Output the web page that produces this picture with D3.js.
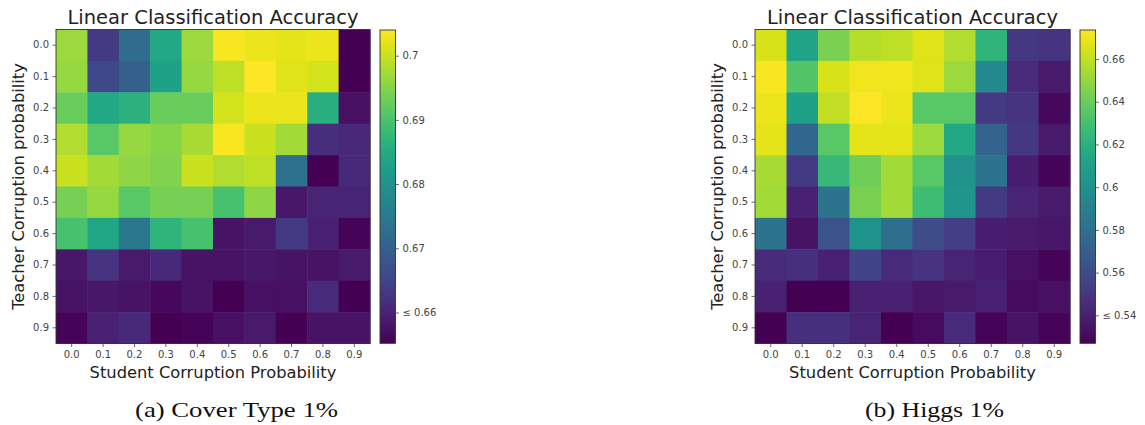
<!DOCTYPE html>
<html><head><meta charset="utf-8">
<script src="https://cdn.jsdelivr.net/npm/d3@7"></script>
<style>
html,body{margin:0;padding:0;background:#fff;}
svg{display:block;}
</style></head>
<body>
<svg id="chart" width="1145" height="425"></svg>
<script>
const probs = ["0.0","0.1","0.2","0.3","0.4","0.5","0.6","0.7","0.8","0.9"];

// Cover Type 1% : rows = teacher corruption, cols = student corruption
const coverType = [
  [0.6967,0.6635,0.6723,0.6845,0.6967,0.7035,0.7025,0.7020,0.7025,0.6500],
  [0.6962,0.6659,0.6698,0.6830,0.6962,0.6991,0.7040,0.7016,0.7006,0.6500],
  [0.6928,0.6845,0.6864,0.6928,0.6928,0.7006,0.7025,0.7025,0.6859,0.6572],
  [0.6981,0.6913,0.6962,0.6952,0.6977,0.7035,0.7001,0.6972,0.6615,0.6606],
  [0.7001,0.6972,0.6957,0.6947,0.7001,0.6981,0.6991,0.6733,0.6520,0.6606],
  [0.6938,0.6962,0.6913,0.6938,0.6938,0.6898,0.6957,0.6581,0.6601,0.6601],
  [0.6898,0.6840,0.6747,0.6869,0.6898,0.6576,0.6586,0.6635,0.6596,0.6557],
  [0.6581,0.6625,0.6586,0.6606,0.6576,0.6576,0.6581,0.6576,0.6576,0.6586],
  [0.6576,0.6581,0.6576,0.6562,0.6576,0.6540,0.6572,0.6572,0.6611,0.6540],
  [0.6557,0.6596,0.6606,0.6540,0.6557,0.6572,0.6586,0.6540,0.6576,0.6576]
];
const coverDomain = [0.6552, 0.7040];
const coverTicks = [0.66, 0.67, 0.68, 0.69, 0.70];
const coverTickLabels = ["\u2264 0.66","0.67","0.68","0.69","0.7"];

// Higgs 1%
const higgs = [
  [0.6648,0.6120,0.6443,0.6575,0.6589,0.6663,0.6560,0.6223,0.5504,0.5489],
  [0.6721,0.6340,0.6648,0.6707,0.6707,0.6663,0.6516,0.5958,0.5445,0.5372],
  [0.6692,0.6105,0.6604,0.6736,0.6692,0.6355,0.6355,0.5518,0.5489,0.5298],
  [0.6677,0.5753,0.6355,0.6677,0.6677,0.6516,0.6149,0.5724,0.5504,0.5372],
  [0.6545,0.5518,0.6252,0.6413,0.6531,0.6355,0.6003,0.5826,0.5386,0.5284],
  [0.6531,0.5401,0.5826,0.6443,0.6531,0.6281,0.6032,0.5518,0.5416,0.5372],
  [0.5826,0.5342,0.5636,0.6017,0.5797,0.5606,0.5533,0.5386,0.5372,0.5357],
  [0.5445,0.5474,0.5401,0.5562,0.5445,0.5489,0.5416,0.5386,0.5328,0.5284],
  [0.5401,0.5270,0.5270,0.5401,0.5401,0.5357,0.5372,0.5401,0.5313,0.5328],
  [0.5270,0.5474,0.5474,0.5416,0.5270,0.5313,0.5445,0.5284,0.5342,0.5284]
];
const higgsDomain = [0.5269, 0.6736];
const higgsTicks = [0.54, 0.56, 0.58, 0.60, 0.62, 0.64, 0.66];
const higgsTickLabels = ["\u2264 0.54","0.56","0.58","0.6","0.62","0.64","0.66"];

const titles = ["Linear Classification Accuracy","Linear Classification Accuracy"];
const captions = ["(a) Cover Type 1%","(b) Higgs 1%"];

const svg = d3.select("#chart");

function panel(cfg){
  const g = svg.append("g");
  const x = d3.scaleBand().domain(probs).range([cfg.x0, cfg.x1]).padding(0);
  const y = d3.scaleBand().domain(probs).range([cfg.y0, cfg.y1]).padding(0);
  const color = v => d3.interpolateViridis(Math.max(0, Math.min(1, (v - cfg.domain[0])/(cfg.domain[1]-cfg.domain[0]))));

  const cells = [];
  cfg.data.forEach((row,i)=>row.forEach((v,j)=>cells.push({r:probs[i],c:probs[j],v})));
  g.selectAll("rect.cell").data(cells).enter().append("rect")
    .attr("class","cell")
    .attr("x",d=>x(d.c)).attr("y",d=>y(d.r))
    .attr("width",x.bandwidth()+0.5).attr("height",y.bandwidth()+0.5)
    .attr("fill",d=>color(d.v));

  // frame
  g.append("rect").attr("x",cfg.x0).attr("y",cfg.y0)
    .attr("width",cfg.x1-cfg.x0).attr("height",cfg.y1-cfg.y0)
    .attr("fill","none").attr("stroke","#333").attr("stroke-width",0.9);

  const xAxis = d3.axisBottom(x).tickSize(3.5).tickPadding(3.5);
  const gx = g.append("g").attr("transform",`translate(0,${cfg.y1})`).call(xAxis);
  const yAxis = d3.axisLeft(y).tickSize(3.5).tickPadding(3.5);
  const gy = g.append("g").attr("transform",`translate(${cfg.x0},0)`).call(yAxis);
  [gx,gy].forEach(a=>{
    a.select(".domain").remove();
    a.selectAll(".tick line").attr("stroke","#444").attr("stroke-width",0.8);
    a.selectAll(".tick text").attr("fill","#444").style("font-family","DejaVu Sans").style("font-size","10px");
  });

  // title
  g.append("text").attr("x",(cfg.x0+cfg.x1)/2).attr("y",cfg.y0-6)
    .attr("text-anchor","middle").style("font-family","DejaVu Sans").style("font-size","19.5px")
    .attr("fill","#222").text(cfg.title);
  // axis labels
  g.append("text").attr("x",(cfg.x0+cfg.x1)/2).attr("y",cfg.y1+34.5)
    .attr("text-anchor","middle").style("font-family","DejaVu Sans").style("font-size","16.3px")
    .attr("fill","#222").text("Student Corruption Probability");
  g.append("text").attr("transform",`translate(${cfg.x0-32},${(cfg.y0+cfg.y1)/2}) rotate(-90)`)
    .attr("text-anchor","middle").style("font-family","DejaVu Sans").style("font-size","16.3px")
    .attr("fill","#222").text("Teacher Corruption probability");

  // colorbar
  const gid = "grad"+cfg.id;
  const grad = svg.append("defs").append("linearGradient").attr("id",gid)
    .attr("x1","0").attr("y1","1").attr("x2","0").attr("y2","0");
  d3.range(0,1.0001,0.05).forEach(t=>grad.append("stop").attr("offset",t).attr("stop-color",d3.interpolateViridis(t)));
  const cb = g.append("g");
  cb.append("rect").attr("x",cfg.cbx).attr("y",cfg.cby0).attr("width",cfg.cbw).attr("height",cfg.cby1-cfg.cby0)
    .attr("fill",`url(#${gid})`).attr("stroke","#333").attr("stroke-width",0.9);
  const cs = d3.scaleLinear().domain(cfg.domain).range([cfg.cby1,cfg.cby0]);
  const cAxis = d3.axisRight(cs).tickValues(cfg.ticks).tickFormat((d,i)=>cfg.tickLabels[i]).tickSize(3.5).tickPadding(3.5);
  const gc = cb.append("g").attr("transform",`translate(${cfg.cbx+cfg.cbw},0)`).call(cAxis);
  gc.select(".domain").remove();
  gc.selectAll(".tick line").attr("stroke","#444").attr("stroke-width",0.8);
  gc.selectAll(".tick text").attr("fill","#444").style("font-family","DejaVu Sans").style("font-size","10px");

  // caption
  svg.append("text").attr("x",cfg.capx).attr("y",417)
    .attr("text-anchor","middle").style("font-family","Liberation Serif").style("font-size","21px")
    .attr("fill","#111").attr("textLength",cfg.capw).attr("lengthAdjust","spacingAndGlyphs").text(cfg.caption);
}

panel({id:"a",data:coverType,domain:coverDomain,ticks:coverTicks,tickLabels:coverTickLabels,
  x0:56,x1:370,y0:29.5,y1:343.5,cbx:380,cbw:15.5,cby0:30,cby1:343.3,title:titles[0],caption:captions[0],capx:236.5,capw:203});
panel({id:"b",data:higgs,domain:higgsDomain,ticks:higgsTicks,tickLabels:higgsTickLabels,
  x0:755,x1:1070,y0:29.5,y1:343.5,cbx:1080,cbw:15.5,cby0:30,cby1:343.3,title:titles[1],caption:captions[1],capx:934.5,capw:139});
</script>
</body></html>
